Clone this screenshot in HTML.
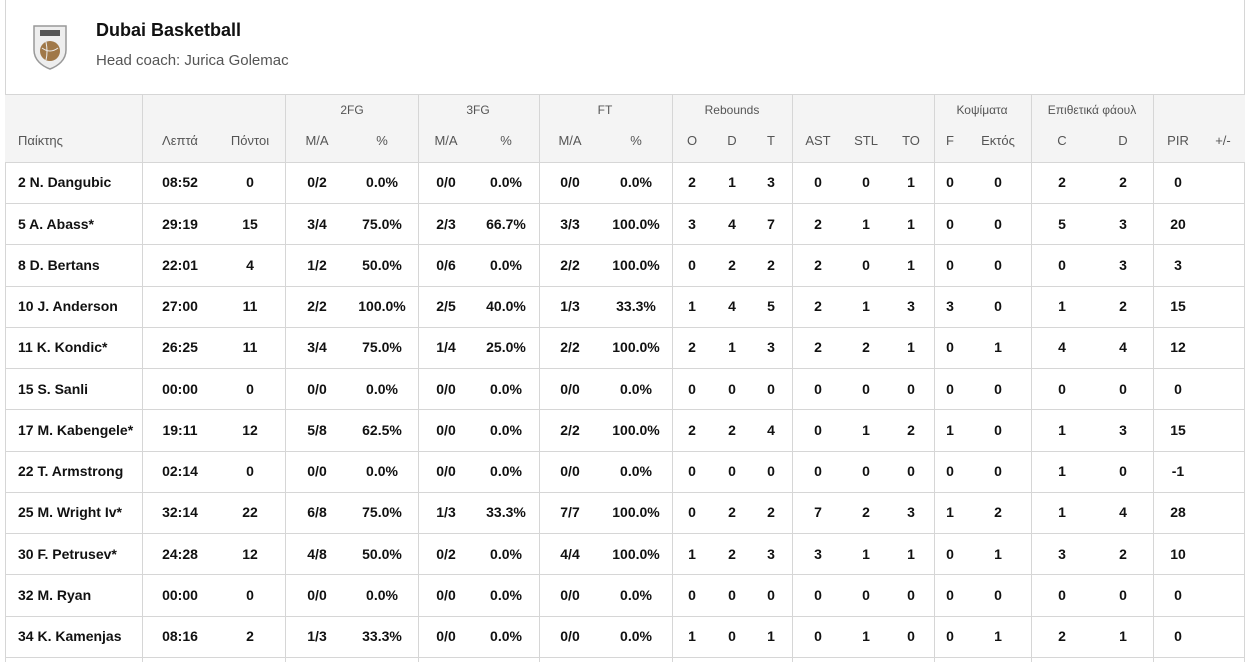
<!DOCTYPE html>
<html><head><meta charset="utf-8"><style>
body{margin:0;width:1251px;height:662px;overflow:hidden;background:#fff;font-family:"Liberation Sans",sans-serif;position:relative}
.frame{position:absolute;left:5px;top:0;width:1240px;height:662px;border-left:1px solid #d6d6d6;border-right:1px solid #d6d6d6;box-sizing:border-box}
.title{position:absolute;left:96px;top:20px;font-size:18px;font-weight:bold;color:#111}
.coach{position:absolute;left:96px;top:52px;font-size:15px;color:#555}
.hdr{position:absolute;left:5px;top:94px;width:1240px;height:68px;background:#f4f4f4;border-top:1px solid #d6d6d6;box-sizing:border-box}
.vl{position:absolute;top:94px;height:568px;width:1px;background:#d6d6d6}
.hl{position:absolute;left:5px;width:1240px;height:1px;background:#d6d6d6}
.r{position:absolute;left:0;width:1251px;height:20px}
.r span{position:absolute;width:80px;margin-left:-40px;text-align:center;top:0}
.r span.n{margin-left:0;text-align:left;width:130px;left:18px}
.g{font-size:12px;color:#555}
.h{font-size:13px;color:#555}
.d{font-size:14px;font-weight:bold;color:#111}
.a{left:180px}.b{left:250px}.c{left:317px}.e{left:382px}.f{left:446px}.i{left:506px}.j{left:570px}.k{left:636px}.l{left:692px}.m{left:732px}.o{left:771px}.p{left:818px}.q{left:866px}.s{left:911px}.t{left:950px}.u{left:998px}.v{left:1062px}.w{left:1123px}.x{left:1178px}.y{left:1223px}
</style></head><body>
<div class="frame"></div>
<svg style="position:absolute;left:32px;top:24px" width="36" height="46" viewBox="0 0 36 46"><path d="M2 2h32v24c0 10-8 16-16 19C10 42 2 36 2 26z" fill="#eee" stroke="#999" stroke-width="1.5"/><rect x="8" y="6" width="20" height="6" fill="#555"/><circle cx="18" cy="27" r="10" fill="#a07848"/><path d="M10 24q8 6 16 0M14 18q2 10 0 18" stroke="#eee" fill="none"/></svg>
<div class="title">Dubai Basketball</div>
<div class="coach">Head coach: Jurica Golemac</div>
<div class="hdr"></div>
<div class="vl" style="left:142px"></div><div class="vl" style="left:285px"></div><div class="vl" style="left:418px"></div><div class="vl" style="left:539px"></div><div class="vl" style="left:672px"></div><div class="vl" style="left:792px"></div><div class="vl" style="left:934px"></div><div class="vl" style="left:1031px"></div><div class="vl" style="left:1153px"></div>
<div class="hl" style="top:162px"></div><div class="hl" style="top:203px"></div><div class="hl" style="top:244px"></div><div class="hl" style="top:286px"></div><div class="hl" style="top:327px"></div><div class="hl" style="top:368px"></div><div class="hl" style="top:409px"></div><div class="hl" style="top:451px"></div><div class="hl" style="top:492px"></div><div class="hl" style="top:533px"></div><div class="hl" style="top:574px"></div><div class="hl" style="top:616px"></div><div class="hl" style="top:657px"></div>
<div class="r g" style="top:103px"><span style="left:352px">2FG</span><span style="left:478px">3FG</span><span style="left:605px">FT</span><span style="left:732px">Rebounds</span><span style="left:982px">Κοψίματα</span><span style="left:1092px;width:120px;margin-left:-60px">Επιθετικά φάουλ</span></div>
<div class="r h" style="top:133px"><span class="n">Παίκτης</span><span class="a">Λεπτά</span><span class="b">Πόντοι</span><span class="c">M/A</span><span class="e">%</span><span class="f">M/A</span><span class="i">%</span><span class="j">M/A</span><span class="k">%</span><span class="l">O</span><span class="m">D</span><span class="o">T</span><span class="p">AST</span><span class="q">STL</span><span class="s">TO</span><span class="t">F</span><span class="u">Εκτός</span><span class="v">C</span><span class="w">D</span><span class="x">PIR</span><span class="y">+/-</span></div>
<div class="r d" style="top:174px"><span class="n">2 N. Dangubic</span><span class="a">08:52</span><span class="b">0</span><span class="c">0/2</span><span class="e">0.0%</span><span class="f">0/0</span><span class="i">0.0%</span><span class="j">0/0</span><span class="k">0.0%</span><span class="l">2</span><span class="m">1</span><span class="o">3</span><span class="p">0</span><span class="q">0</span><span class="s">1</span><span class="t">0</span><span class="u">0</span><span class="v">2</span><span class="w">2</span><span class="x">0</span></div>
<div class="r d" style="top:216px"><span class="n">5 A. Abass*</span><span class="a">29:19</span><span class="b">15</span><span class="c">3/4</span><span class="e">75.0%</span><span class="f">2/3</span><span class="i">66.7%</span><span class="j">3/3</span><span class="k">100.0%</span><span class="l">3</span><span class="m">4</span><span class="o">7</span><span class="p">2</span><span class="q">1</span><span class="s">1</span><span class="t">0</span><span class="u">0</span><span class="v">5</span><span class="w">3</span><span class="x">20</span></div>
<div class="r d" style="top:257px"><span class="n">8 D. Bertans</span><span class="a">22:01</span><span class="b">4</span><span class="c">1/2</span><span class="e">50.0%</span><span class="f">0/6</span><span class="i">0.0%</span><span class="j">2/2</span><span class="k">100.0%</span><span class="l">0</span><span class="m">2</span><span class="o">2</span><span class="p">2</span><span class="q">0</span><span class="s">1</span><span class="t">0</span><span class="u">0</span><span class="v">0</span><span class="w">3</span><span class="x">3</span></div>
<div class="r d" style="top:298px"><span class="n">10 J. Anderson</span><span class="a">27:00</span><span class="b">11</span><span class="c">2/2</span><span class="e">100.0%</span><span class="f">2/5</span><span class="i">40.0%</span><span class="j">1/3</span><span class="k">33.3%</span><span class="l">1</span><span class="m">4</span><span class="o">5</span><span class="p">2</span><span class="q">1</span><span class="s">3</span><span class="t">3</span><span class="u">0</span><span class="v">1</span><span class="w">2</span><span class="x">15</span></div>
<div class="r d" style="top:339px"><span class="n">11 K. Kondic*</span><span class="a">26:25</span><span class="b">11</span><span class="c">3/4</span><span class="e">75.0%</span><span class="f">1/4</span><span class="i">25.0%</span><span class="j">2/2</span><span class="k">100.0%</span><span class="l">2</span><span class="m">1</span><span class="o">3</span><span class="p">2</span><span class="q">2</span><span class="s">1</span><span class="t">0</span><span class="u">1</span><span class="v">4</span><span class="w">4</span><span class="x">12</span></div>
<div class="r d" style="top:381px"><span class="n">15 S. Sanli</span><span class="a">00:00</span><span class="b">0</span><span class="c">0/0</span><span class="e">0.0%</span><span class="f">0/0</span><span class="i">0.0%</span><span class="j">0/0</span><span class="k">0.0%</span><span class="l">0</span><span class="m">0</span><span class="o">0</span><span class="p">0</span><span class="q">0</span><span class="s">0</span><span class="t">0</span><span class="u">0</span><span class="v">0</span><span class="w">0</span><span class="x">0</span></div>
<div class="r d" style="top:422px"><span class="n">17 M. Kabengele*</span><span class="a">19:11</span><span class="b">12</span><span class="c">5/8</span><span class="e">62.5%</span><span class="f">0/0</span><span class="i">0.0%</span><span class="j">2/2</span><span class="k">100.0%</span><span class="l">2</span><span class="m">2</span><span class="o">4</span><span class="p">0</span><span class="q">1</span><span class="s">2</span><span class="t">1</span><span class="u">0</span><span class="v">1</span><span class="w">3</span><span class="x">15</span></div>
<div class="r d" style="top:463px"><span class="n">22 T. Armstrong</span><span class="a">02:14</span><span class="b">0</span><span class="c">0/0</span><span class="e">0.0%</span><span class="f">0/0</span><span class="i">0.0%</span><span class="j">0/0</span><span class="k">0.0%</span><span class="l">0</span><span class="m">0</span><span class="o">0</span><span class="p">0</span><span class="q">0</span><span class="s">0</span><span class="t">0</span><span class="u">0</span><span class="v">1</span><span class="w">0</span><span class="x">-1</span></div>
<div class="r d" style="top:504px"><span class="n">25 M. Wright Iv*</span><span class="a">32:14</span><span class="b">22</span><span class="c">6/8</span><span class="e">75.0%</span><span class="f">1/3</span><span class="i">33.3%</span><span class="j">7/7</span><span class="k">100.0%</span><span class="l">0</span><span class="m">2</span><span class="o">2</span><span class="p">7</span><span class="q">2</span><span class="s">3</span><span class="t">1</span><span class="u">2</span><span class="v">1</span><span class="w">4</span><span class="x">28</span></div>
<div class="r d" style="top:546px"><span class="n">30 F. Petrusev*</span><span class="a">24:28</span><span class="b">12</span><span class="c">4/8</span><span class="e">50.0%</span><span class="f">0/2</span><span class="i">0.0%</span><span class="j">4/4</span><span class="k">100.0%</span><span class="l">1</span><span class="m">2</span><span class="o">3</span><span class="p">3</span><span class="q">1</span><span class="s">1</span><span class="t">0</span><span class="u">1</span><span class="v">3</span><span class="w">2</span><span class="x">10</span></div>
<div class="r d" style="top:587px"><span class="n">32 M. Ryan</span><span class="a">00:00</span><span class="b">0</span><span class="c">0/0</span><span class="e">0.0%</span><span class="f">0/0</span><span class="i">0.0%</span><span class="j">0/0</span><span class="k">0.0%</span><span class="l">0</span><span class="m">0</span><span class="o">0</span><span class="p">0</span><span class="q">0</span><span class="s">0</span><span class="t">0</span><span class="u">0</span><span class="v">0</span><span class="w">0</span><span class="x">0</span></div>
<div class="r d" style="top:628px"><span class="n">34 K. Kamenjas</span><span class="a">08:16</span><span class="b">2</span><span class="c">1/3</span><span class="e">33.3%</span><span class="f">0/0</span><span class="i">0.0%</span><span class="j">0/0</span><span class="k">0.0%</span><span class="l">1</span><span class="m">0</span><span class="o">1</span><span class="p">0</span><span class="q">1</span><span class="s">0</span><span class="t">0</span><span class="u">1</span><span class="v">2</span><span class="w">1</span><span class="x">0</span></div>
</body></html>
